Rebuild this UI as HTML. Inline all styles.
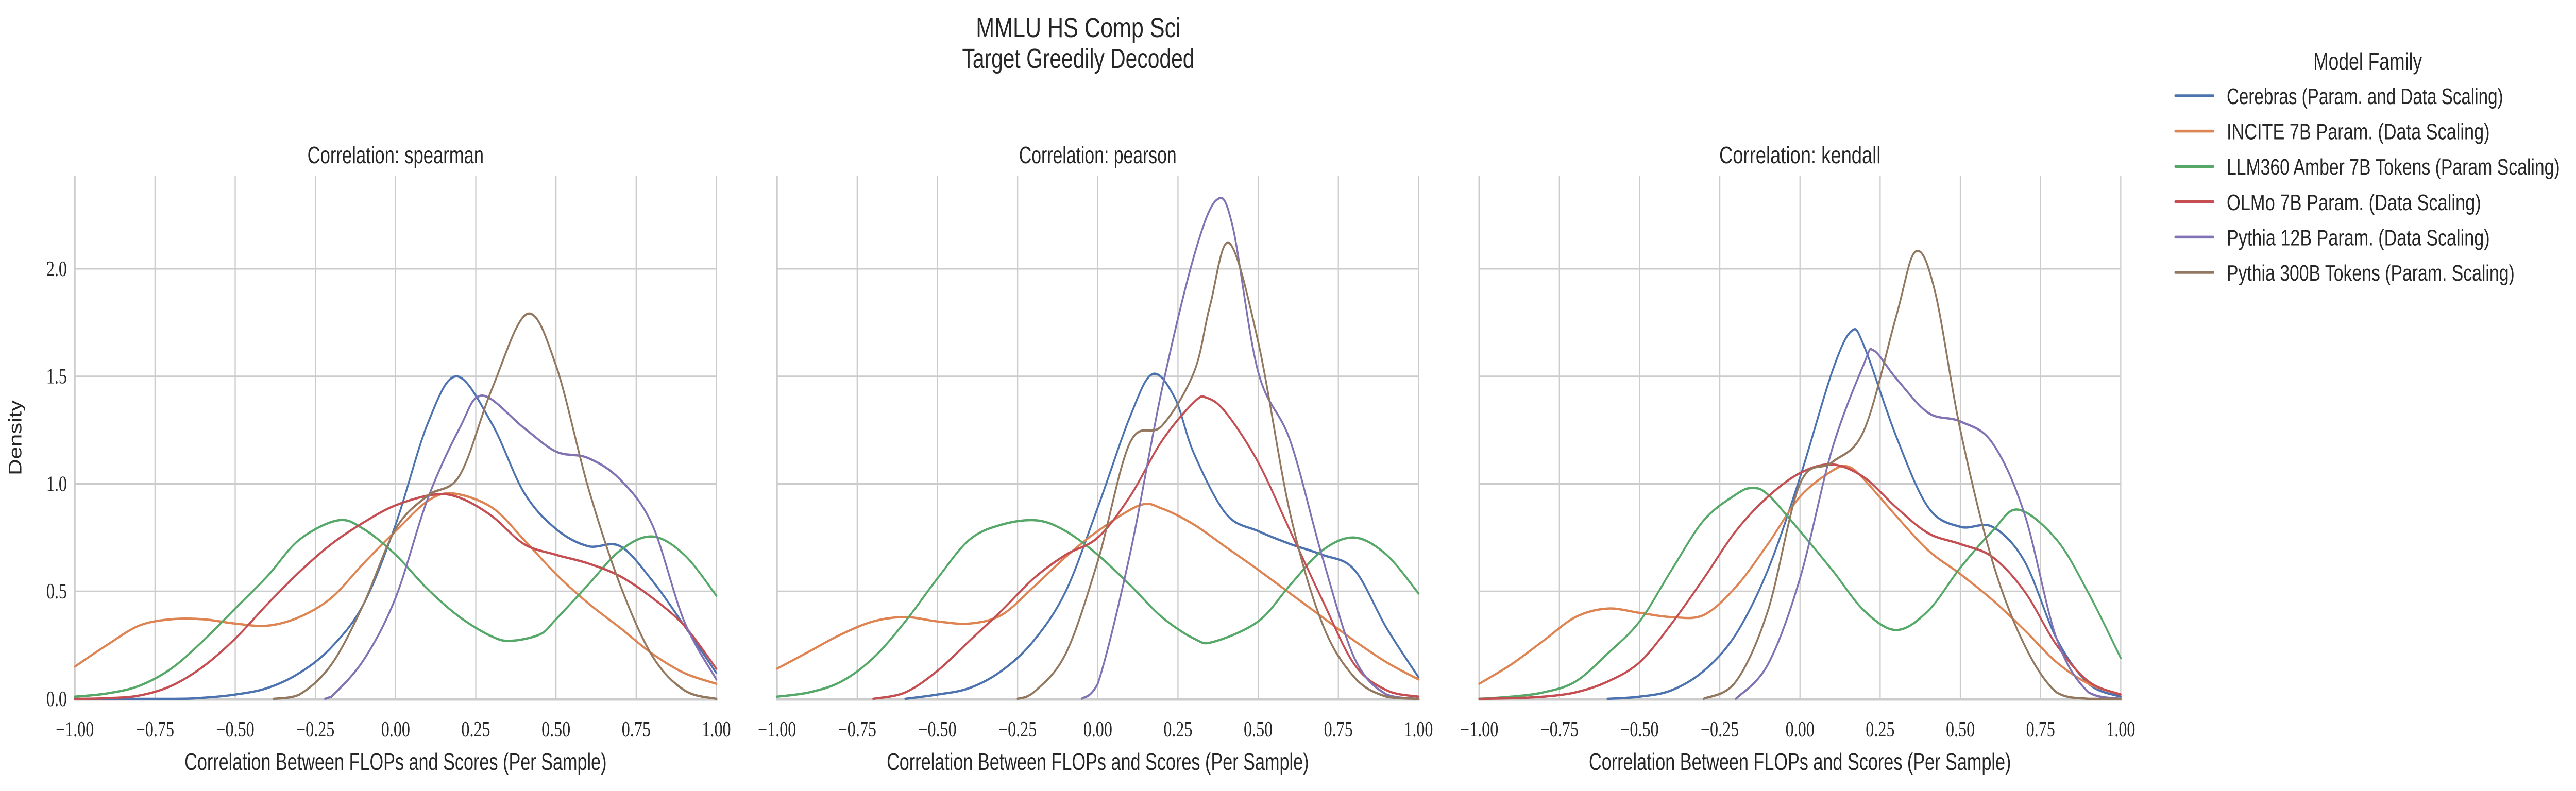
<!DOCTYPE html>
<html><head><meta charset="utf-8"><title>MMLU HS Comp Sci</title>
<style>html,body{margin:0;padding:0;background:#fff;overflow:hidden;width:100vw;height:100vh}svg{display:block;width:100vw;height:100vh}</style></head>
<body>
<svg id="chart" xmlns="http://www.w3.org/2000/svg" viewBox="0 0 6541 1536" preserveAspectRatio="none">
<rect width="6541" height="1536" fill="#fff"/>
<g id="titles" font-family="Liberation Sans, sans-serif" fill="#262626" text-anchor="middle">
<text x="2738" y="72" font-size="54" textLength="520" lengthAdjust="spacingAndGlyphs">MMLU HS Comp Sci</text>
<text x="2738" y="132" font-size="54" textLength="590" lengthAdjust="spacingAndGlyphs">Target Greedily Decoded</text>
</g>
<g id="panels"></g>
<g id="legend"></g>
</svg>
<script>
const seriesNames = ["Cerebras (Param. and Data Scaling)","INCITE 7B Param. (Data Scaling)","LLM360 Amber 7B Tokens (Param Scaling)","OLMo 7B Param. (Data Scaling)","Pythia 12B Param. (Data Scaling)","Pythia 300B Tokens (Param. Scaling)"];
const seriesColors = ["#4c72b0","#dd8452","#55a868","#c44e52","#8172b3","#937860"];
const panelTitles = ["Correlation: spearman","Correlation: pearson","Correlation: kendall"];
const xTicks = [-1,-0.75,-0.5,-0.25,0,0.25,0.5,0.75,1];
const xTickLabels = ["\u22121.00","\u22120.75","\u22120.50","\u22120.25","0.00","0.25","0.50","0.75","1.00"];
const yTicks = [0,0.5,1,1.5,2];
const yTickLabels = ["0.0","0.5","1.0","1.5","2.0"];

// spearman
const spCerebras = [[-1,0],[-0.7,0],[-0.6,0.005],[-0.5,0.02],[-0.4,0.05],[-0.3,0.12],[-0.2,0.24],[-0.1,0.44],[0,0.81],[0.1,1.28],[0.19,1.5],[0.3,1.28],[0.4,0.96],[0.5,0.79],[0.6,0.71],[0.7,0.71],[0.8,0.55],[0.9,0.34],[1,0.12]];
const spIncite = [[-1,0.15],[-0.9,0.25],[-0.8,0.34],[-0.7,0.37],[-0.6,0.37],[-0.5,0.35],[-0.4,0.34],[-0.3,0.38],[-0.2,0.47],[-0.1,0.63],[0,0.78],[0.1,0.92],[0.18,0.955],[0.3,0.89],[0.4,0.74],[0.5,0.58],[0.6,0.445],[0.7,0.33],[0.8,0.21],[0.9,0.12],[1,0.07]];
const spAmber = [[-1,0.01],[-0.9,0.025],[-0.8,0.06],[-0.7,0.14],[-0.6,0.27],[-0.5,0.42],[-0.4,0.57],[-0.3,0.74],[-0.18,0.83],[-0.1,0.79],[0,0.67],[0.1,0.51],[0.2,0.38],[0.3,0.29],[0.36,0.27],[0.45,0.3],[0.5,0.37],[0.6,0.53],[0.7,0.69],[0.8,0.755],[0.9,0.67],[1,0.48]];
const spOlmo = [[-1,0],[-0.9,0.003],[-0.8,0.015],[-0.7,0.06],[-0.6,0.15],[-0.5,0.28],[-0.4,0.44],[-0.3,0.59],[-0.2,0.72],[-0.1,0.82],[0,0.9],[0.12,0.95],[0.2,0.935],[0.3,0.85],[0.4,0.72],[0.5,0.67],[0.6,0.63],[0.7,0.57],[0.8,0.47],[0.9,0.34],[1,0.14]];
const spPythia12 = [[-0.22,0],[-0.2,0.01],[-0.1,0.18],[0,0.47],[0.1,0.93],[0.2,1.26],[0.27,1.41],[0.4,1.26],[0.5,1.15],[0.6,1.12],[0.7,1.02],[0.8,0.81],[0.9,0.36],[1,0.09]];
const spPythia300 = [[-0.38,0],[-0.3,0.02],[-0.2,0.16],[-0.1,0.44],[0,0.79],[0.1,0.945],[0.2,1.04],[0.3,1.44],[0.41,1.79],[0.5,1.55],[0.6,0.985],[0.7,0.53],[0.8,0.2],[0.9,0.04],[1,0]];

// pearson
const peCerebras = [[-0.6,0],[-0.5,0.02],[-0.4,0.05],[-0.3,0.13],[-0.2,0.27],[-0.1,0.5],[0,0.89],[0.1,1.31],[0.17,1.51],[0.24,1.4],[0.3,1.14],[0.4,0.86],[0.5,0.78],[0.6,0.72],[0.7,0.67],[0.8,0.6],[0.9,0.33],[1,0.1]];
const peIncite = [[-1,0.14],[-0.9,0.22],[-0.8,0.3],[-0.7,0.36],[-0.6,0.38],[-0.5,0.36],[-0.4,0.35],[-0.3,0.39],[-0.2,0.52],[-0.1,0.66],[0,0.78],[0.13,0.9],[0.2,0.885],[0.3,0.81],[0.4,0.705],[0.5,0.6],[0.6,0.49],[0.7,0.38],[0.8,0.27],[0.9,0.17],[1,0.09]];
const peAmber = [[-1,0.01],[-0.9,0.03],[-0.8,0.08],[-0.7,0.19],[-0.6,0.36],[-0.5,0.56],[-0.4,0.74],[-0.3,0.81],[-0.19,0.83],[-0.1,0.78],[0,0.67],[0.1,0.53],[0.2,0.38],[0.3,0.28],[0.36,0.265],[0.5,0.36],[0.6,0.53],[0.7,0.69],[0.8,0.75],[0.9,0.67],[1,0.49]];
const peOlmo = [[-0.7,0],[-0.6,0.03],[-0.5,0.13],[-0.4,0.27],[-0.3,0.41],[-0.2,0.56],[-0.1,0.67],[0,0.75],[0.1,0.94],[0.2,1.2],[0.3,1.38],[0.34,1.4],[0.4,1.33],[0.5,1.1],[0.6,0.78],[0.7,0.46],[0.8,0.16],[0.9,0.04],[1,0.01]];
const pePythia12 = [[-0.05,0],[0,0.07],[0.1,0.67],[0.2,1.44],[0.3,2.06],[0.37,2.32],[0.42,2.2],[0.5,1.52],[0.6,1.2],[0.7,0.66],[0.8,0.19],[0.9,0.02],[1,0]];
const pePythia300 = [[-0.25,0],[-0.2,0.03],[-0.1,0.21],[0,0.64],[0.1,1.19],[0.2,1.27],[0.3,1.52],[0.35,1.83],[0.41,2.12],[0.5,1.66],[0.6,0.86],[0.7,0.35],[0.8,0.1],[0.9,0.01],[1,0]];

// kendall
const keCerebras = [[-0.6,0],[-0.5,0.01],[-0.4,0.04],[-0.3,0.13],[-0.2,0.3],[-0.1,0.6],[0,1.03],[0.1,1.52],[0.16,1.71],[0.2,1.64],[0.3,1.22],[0.4,0.89],[0.5,0.8],[0.6,0.8],[0.7,0.64],[0.8,0.28],[0.9,0.07],[1,0.01]];
const keIncite = [[-1,0.07],[-0.9,0.16],[-0.8,0.27],[-0.7,0.38],[-0.6,0.42],[-0.5,0.4],[-0.4,0.38],[-0.3,0.39],[-0.2,0.52],[-0.1,0.72],[0,0.94],[0.1,1.06],[0.15,1.08],[0.2,1.02],[0.3,0.85],[0.4,0.69],[0.5,0.58],[0.6,0.46],[0.7,0.32],[0.8,0.17],[0.9,0.07],[1,0.02]];
const keAmber = [[-1,0],[-0.9,0.01],[-0.8,0.03],[-0.7,0.08],[-0.6,0.21],[-0.5,0.36],[-0.4,0.6],[-0.3,0.83],[-0.2,0.95],[-0.15,0.98],[-0.1,0.95],[0,0.78],[0.1,0.6],[0.2,0.41],[0.3,0.32],[0.4,0.41],[0.5,0.61],[0.6,0.78],[0.68,0.88],[0.8,0.74],[0.9,0.49],[1,0.19]];
const keOlmo = [[-1,0],[-0.9,0.003],[-0.8,0.01],[-0.7,0.03],[-0.6,0.08],[-0.5,0.17],[-0.4,0.35],[-0.3,0.56],[-0.2,0.78],[-0.1,0.94],[0,1.05],[0.1,1.09],[0.2,1.03],[0.3,0.89],[0.4,0.77],[0.5,0.72],[0.6,0.66],[0.7,0.5],[0.8,0.25],[0.9,0.08],[1,0.02]];
const kePythia12 = [[-0.2,0],[-0.1,0.16],[0,0.56],[0.1,1.16],[0.2,1.56],[0.23,1.62],[0.3,1.49],[0.4,1.33],[0.5,1.29],[0.6,1.19],[0.7,0.86],[0.8,0.28],[0.9,0.03],[1,0]];
const kePythia300 = [[-0.3,0],[-0.2,0.08],[-0.1,0.41],[0,1.0],[0.1,1.1],[0.2,1.25],[0.3,1.78],[0.36,2.08],[0.42,1.9],[0.5,1.25],[0.6,0.64],[0.7,0.25],[0.8,0.03],[0.9,0],[1,0]];

const panelSeries = [
  [spCerebras, spIncite, spAmber, spOlmo, spPythia12, spPythia300],
  [peCerebras, peIncite, peAmber, peOlmo, pePythia12, pePythia300],
  [keCerebras, keIncite, keAmber, keOlmo, kePythia12, kePythia300]
];

const NS = "http://www.w3.org/2000/svg";
const panelLeft = [190, 1973, 3756];
const panelW = 1629;
const plotTop = 342, plotBottom = 1357;
const yMax = (plotBottom - plotTop) / 417.5;
function xScale(p, v){ return panelLeft[p] + (v + 1) / 2 * panelW; }
function yScale(v){ return plotBottom - v / yMax * (plotBottom - plotTop); }
function mk(tag, attrs, parent){ const e = document.createElementNS(NS, tag); for (const k in attrs) e.setAttribute(k, attrs[k]); parent.appendChild(e); return e; }

function splinePath(p, pts){
  const P = pts.map(d => [xScale(p, d[0]), yScale(d[1])]);
  let d = "M" + P[0][0].toFixed(1) + "," + P[0][1].toFixed(1);
  for (let i = 0; i < P.length - 1; i++){
    const p0 = P[Math.max(0, i-1)], p1 = P[i], p2 = P[i+1], p3 = P[Math.min(P.length-1, i+2)];
    const c1x = p1[0] + (p2[0]-p0[0])/6, c1y = Math.min(plotBottom, p1[1] + (p2[1]-p0[1])/6);
    const c2x = p2[0] - (p3[0]-p1[0])/6, c2y = Math.min(plotBottom, p2[1] - (p3[1]-p1[1])/6);
    d += " C" + c1x.toFixed(1) + "," + c1y.toFixed(1) + " " + c2x.toFixed(1) + "," + c2y.toFixed(1) + " " + p2[0].toFixed(1) + "," + p2[1].toFixed(1);
  }
  return d;
}

const panelsG = document.getElementById("panels");
const serif = "Liberation Serif, serif", sans = "Liberation Sans, sans-serif";
for (let p = 0; p < 3; p++){
  const g = mk("g", {}, panelsG);
  
  
  const x0 = panelLeft[p], x1 = panelLeft[p] + panelW;
  xTicks.forEach((t, i) => {
    const l = mk("line", {x1: xScale(p,t), x2: xScale(p,t), y1: plotTop, y2: plotBottom, stroke: "#cccccc", "stroke-width": 3}, g);
    
    
    const tx = mk("text", {x: xScale(p,t), y: 1430, "font-family": serif, "font-size": 42, fill: "#262626", "text-anchor": "middle"}, g);
    
    
    tx.textContent = xTickLabels[i];
  });
  yTicks.forEach((t, i) => {
    const l = mk("line", {x1: x0, x2: x1, y1: yScale(t), y2: yScale(t), stroke: "#cccccc", "stroke-width": 3}, g);
    
    
    if (p === 0){
      const tx = mk("text", {x: 170, y: yScale(t) + 14, "font-family": serif, "font-size": 42, fill: "#262626", "text-anchor": "end"}, g);
      
      
      tx.textContent = yTickLabels[i];
    }
  });
  const sl = mk("line", {x1: x0, x2: x0, y1: plotTop, y2: plotBottom + 2, stroke: "#cccccc", "stroke-width": 4}, g);
  
  
  const sb = mk("line", {x1: x0 - 2, x2: x1 + 3, y1: plotBottom + 1, y2: plotBottom + 1, stroke: "#cccccc", "stroke-width": 5}, g);
  
  
  panelSeries[p].forEach((pts, s) => {
    const path = mk("path", {d: splinePath(p, pts), fill: "none", stroke: seriesColors[s], "stroke-width": 4.5, "stroke-linejoin": "round", "stroke-linecap": "round"}, g);
    
    
  });
  const cx = x0 + panelW / 2;
  const tt = mk("text", {x: cx, y: 317, "font-family": sans, "font-size": 46, fill: "#262626", "text-anchor": "middle", textLength: [448,400,410][p], lengthAdjust: "spacingAndGlyphs"}, g);
  
  
  tt.textContent = panelTitles[p];
  const xl = mk("text", {x: cx, y: 1495, "font-family": sans, "font-size": 46, fill: "#262626", "text-anchor": "middle", textLength: 1072, lengthAdjust: "spacingAndGlyphs"}, g);
  
  
  xl.textContent = "Correlation Between FLOPs and Scores (Per Sample)";
}
const yl = mk("text", {x: 0, y: 0, transform: "translate(54,850) rotate(-90)", "font-family": sans, "font-size": 46, fill: "#262626", "text-anchor": "middle", textLength: 146, lengthAdjust: "spacingAndGlyphs"}, panelsG);


yl.textContent = "Density";

const leg = document.getElementById("legend");
const lt = mk("text", {x: 6012, y: 135, "font-family": sans, "font-size": 46, fill: "#262626", "text-anchor": "middle", textLength: 276, lengthAdjust: "spacingAndGlyphs"}, leg);


lt.textContent = "Model Family";
const legW = [702, 668, 846, 646, 668, 731];
seriesNames.forEach((n, i) => {
  const y = 186 + i * 68.6;
  const l = mk("line", {x1: 5524, x2: 5620, y1: y, y2: y, stroke: seriesColors[i], "stroke-width": 5.5, "stroke-linecap": "round"}, leg);
  
  
  const t = mk("text", {x: 5654, y: y + 16, "font-family": sans, "font-size": 44, fill: "#262626", textLength: legW[i], lengthAdjust: "spacingAndGlyphs"}, leg);
  
  
  t.textContent = n;
});
</script>
</body></html>
